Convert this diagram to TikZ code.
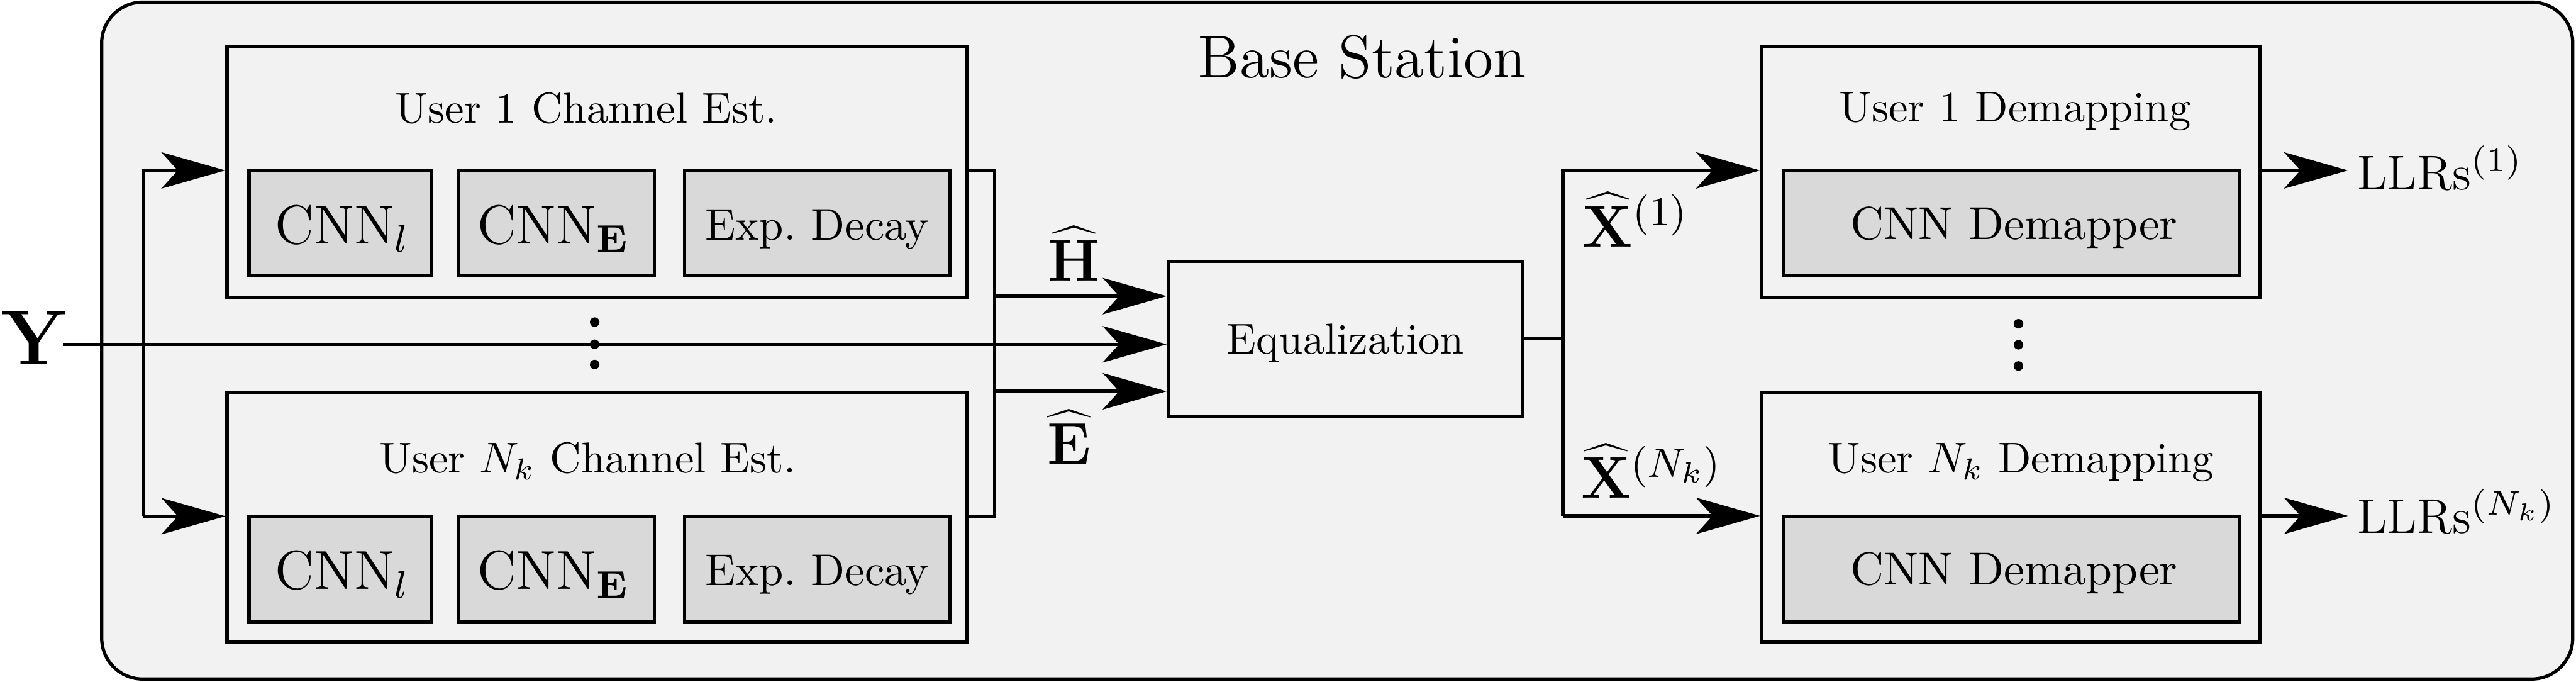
\RequirePackage{fix-cm}
\documentclass[tikz,border=0pt]{standalone}
\usetikzlibrary{arrows.meta,fit}
\definecolor{bgc}{RGB}{242,242,242}
\definecolor{boxc}{RGB}{217,217,217}
\begin{document}
\frenchspacing
\begin{tikzpicture}[x=0.38pt, y=-0.38pt, line width=0.76pt,
  box/.style={draw, inner sep=0pt, fill=bgc},
  gbox/.style={draw, inner sep=0pt, fill=boxc},
  txt/.style={inner sep=0pt, anchor=base},
  txtw/.style={inner sep=0pt, anchor=base west},
  arr/.style={-{Stealth[length=14.8pt,width=8.4pt,inset=3.8pt]}},
  fs/.style={font=\fontsize{#1}{#1}\selectfont}]
\useasboundingbox (0,0) rectangle (1568.1,414.7);
% outer base station
\node[fit={(61.9,1.3) (1566.1,413.2)}, draw, inner sep=0pt, fill=bgc, rounded corners=9.5pt] (bs) {};
\node[txt, fs=14] (bstitle) at (829.2,47.1) {Base Station};
% channel estimation boxes
\node[box, fit={(138.2,28.5) (588.8,180.8)}] (ce1) {};
\node[box, fit={(138.2,239.0) (588.8,390.6)}] (ce2) {};
\node[txt, fs=10] (ce1t) at (357,74.9) {User 1 Channel Est.};
\node[txt, fs=10] (ce2t) at (357.8,287.8) {User $N_k$ Channel Est.};
\node[gbox, fit={(151.6,103.8) (262.9,168.0)}] (c1l) {};
\node[gbox, fit={(279.3,103.8) (398.3,168.0)}] (c1e) {};
\node[gbox, fit={(416.8,103.8) (578.1,168.0)}] (c1x) {};
\node[gbox, fit={(151.6,314.1) (262.9,378.6)}] (c2l) {};
\node[gbox, fit={(279.3,314.1) (398.3,378.6)}] (c2e) {};
\node[gbox, fit={(416.8,314.1) (578.1,378.6)}] (c2x) {};
\node[txt, fs=12.7] (c1lt) at (208.4,148.4) {$\mathrm{CNN}_l$};
\node[txt, fs=12.7] (c1et) at (337,148.4) {$\mathrm{CNN}_{\mathbf{E}}$};
\node[txt, fs=10.3] (c1xt) at (497.4,145.9) {Exp.\ Decay};
\node[txt, fs=12.7] (c2lt) at (208.4,358.7) {$\mathrm{CNN}_l$};
\node[txt, fs=12.7] (c2et) at (337,358.7) {$\mathrm{CNN}_{\mathbf{E}}$};
\node[txt, fs=10.3] (c2xt) at (497.4,356.2) {Exp.\ Decay};
% equalization
\node[box, fit={(711.2,159.2) (927,253.3)}] (eq) {};
\node[txt, fs=10] (eqt) at (819,215.4) {Equalization};
% demapping boxes
\node[box, fit={(1072.4,28.5) (1375.6,180.8)}] (dm1) {};
\node[box, fit={(1072.4,239.0) (1375.6,390.6)}] (dm2) {};
\node[txt, fs=10] (dm1t) at (1226.6,74) {User 1 Demapping};
\node[txt, fs=10] (dm2t) at (1230.2,287.8) {User $N_k$ Demapping};
\node[gbox, fit={(1085.4,103.8) (1363.5,168.0)}] (dn1) {};
\node[gbox, fit={(1085.4,314.1) (1363.5,378.6)}] (dn2) {};
\node[txt, fs=10.7] (dn1t) at (1226,145.5) {CNN Demapper};
\node[txt, fs=10.7] (dn2t) at (1226,355.8) {CNN Demapper};
% input Y
\node[txtw, fs=18] (Y) at (-0.3,221.7) {$\mathbf{Y}$};
\coordinate (ys) at (38.3,209.5);
\coordinate (a1) at (87.4,103.7);
\coordinate (a2) at (87.4,314.1);
\draw[arr] (ys) -- (ys -| eq.west);
\draw[arr] (a2) -- (a1) -- (a1 -| ce1.west);
\draw[arr] (a2) -- (a2 -| ce2.west);
% channel estimation outputs
\coordinate (b1) at (605.5,103.7);
\coordinate (b2) at (605.5,314.1);
\coordinate (hH) at (605.5,180.2);
\coordinate (hE) at (605.5,238.1);
\draw (b1 -| ce1.east) -- (b1) -- (b2) -- (b2 -| ce2.east);
\draw[arr] (hH) -- (hH -| eq.west);
\draw[arr] (hE) -- (hE -| eq.west);
\node[txt, fs=13.6] (Hl) at (653.8,170.8) {$\widehat{\mathbf{H}}$};
\node[txt, fs=13.6] (El) at (650.7,282.4) {$\widehat{\mathbf{E}}$};
% equalization outputs
\coordinate (d1) at (951.3,103.7);
\coordinate (d2) at (951.3,313.9);
\draw (eq.east) -- (eq.east -| d1);
\draw[arr] (d2) -- (d1) -- (d1 -| dm1.west);
\draw[arr] (d2) -- (d2 -| dm2.west);
\node[txtw, fs=13.6] (X1) at (962.5,150.2) {$\widehat{\mathbf{X}}^{(1)}$};
\node[txtw, fs=13.6] (X2) at (961.5,303.2) {$\widehat{\mathbf{X}}^{(N_k)}$};
% LLR outputs
\coordinate (e1) at (1429.3,103.7);
\coordinate (e2) at (1429.3,313.9);
\draw[arr] (e1 -| dm1.east) -- (e1);
\draw[arr] (e2 -| dm2.east) -- (e2);
\node[txtw, fs=11.3] (L1) at (1434,115.3) {LLRs$^{(1)}$};
\node[txtw, fs=11.3] (L2) at (1434,324.3) {LLRs$^{(N_k)}$};
% vertical dots
\foreach \yy in {196,209.5,221.8} \fill (362,\yy) circle (2.9);
\foreach \yy in {197,209.8,222.7} \fill (1228.7,\yy) circle (2.9);
\end{tikzpicture}
\end{document}
